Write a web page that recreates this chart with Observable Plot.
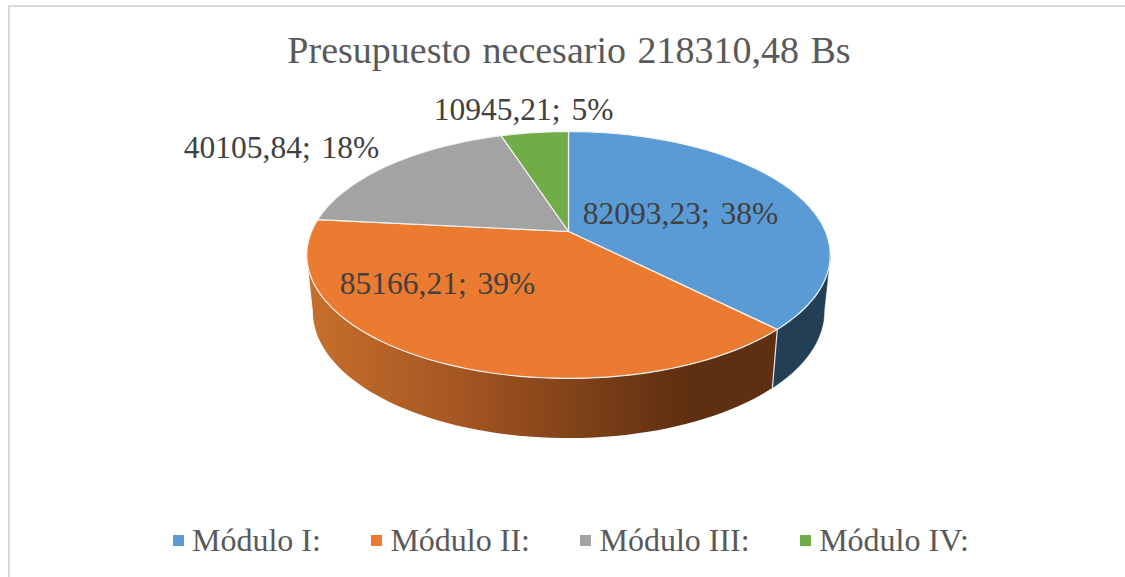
<!DOCTYPE html>
<html>
<head>
<meta charset="utf-8">
<script src="https://cdn.jsdelivr.net/npm/d3@7"></script>
<script src="https://cdn.jsdelivr.net/npm/@observablehq/plot@0.6"></script>
<style>
  html, body { margin: 0; padding: 0; background: #fff; }
  #frame { position: relative; width: 1125px; height: 577px; overflow: hidden; font-family: "Liberation Serif", serif; }
  #border { position: absolute; left: 8px; top: 5px; right: 0; bottom: 0; border-left: 2px solid #d9d9d9; border-top: 2px solid #d9d9d9; }
  #title { position: absolute; left: 0; top: 0; width: 1138px; height: 90px; line-height: 101px; text-align: center; font-size: 38px; color: #595959; word-spacing: 2px; white-space: nowrap; }
  #chart { position: absolute; left: 0; top: 90px; }
  #legend { position: absolute; left: 173px; top: 518px; display: flex; font-size: 32px; line-height: 44px; color: #595959; white-space: nowrap; }
  .item { display: flex; align-items: center; margin-right: 50.5px; }
  .sw { width: 11px; height: 11px; margin-right: 8px; }
</style>
</head>
<body>
<div id="frame">
  <div id="border"></div>
  <div id="title"></div>
  <div id="chart"></div>
  <div id="legend"></div>
</div>
<script>
const titleText = "Presupuesto necesario 218310,48 Bs";
const categories = ["Módulo I:", "Módulo II:", "Módulo III:", "Módulo IV:"];
const values = [82093.23, 85166.21, 40105.84, 10945.21];
const valueLabels = ["82093,23; 38%", "85166,21; 39%", "40105,84; 18%", "10945,21; 5%"];
const colors = ["#5b9bd5", "#ea7b30", "#a3a3a3", "#70ad47"];

// Layout of the tilted pie (page pixels)
const top3d = {cx: 568, cy: 231, a: 119, b: 257, k: 0.19};
const bottom3d = {cx: 568, cy: 287, a: 122, b: 251, k: 0.19};
const labelAt = [[680, 213], [437, 283], [281, 147], [523, 109]];

const total = d3.sum(values);
const edges = [0, ...d3.cumsum(values).map(v => v / total * 2 * Math.PI)];
const STEPS = 180;

function project(g, t) {
  const X = Math.sin(t), Y = Math.cos(t), w = 1 + g.k * Y;
  return {x: g.cx + g.b * X / w, y: g.cy - g.a * Y / w};
}
function arc(g, t0, t1) {
  const n = Math.max(2, Math.ceil(Math.abs(t1 - t0) / (2 * Math.PI) * STEPS));
  return d3.range(n + 1).map(i => project(g, t0 + (t1 - t0) * i / n));
}

// Top faces
const slices = categories.flatMap((name, i) => {
  const apex = {x: top3d.cx, y: top3d.cy};
  return [apex, ...arc(top3d, edges[i], edges[i + 1]), apex].map(p => ({...p, name}));
});

// Side walls: only the two front slices show one
const rightLimit = 0.56 * Math.PI;
const leftLimit = 1.44 * Math.PI;
const wall = (t0, t1) => [...arc(top3d, t0, t1), ...arc(bottom3d, t1, t0)];
const blueWall = wall(rightLimit, edges[1]);
const orangeWall = wall(edges[1], leftLimit);
const close = pts => [...pts, pts[0]];

const chart = Plot.plot({
  width: 1125, height: 410, margin: 0,
  x: {domain: [0, 1125], range: [0, 1125], axis: null},
  y: {domain: [90, 500], range: [0, 410], axis: null},
  color: {domain: categories, range: colors},
  style: {background: "transparent", fontFamily: "'Liberation Serif', serif", wordSpacing: "3px"},
  marks: [
    () => {
      const svg = d3.create("svg:defs");
      const g = svg.append("linearGradient").attr("id", "orangeSide")
        .attr("gradientUnits", "userSpaceOnUse")
        .attr("x1", 305).attr("x2", 771).attr("y1", 0).attr("y2", 0);
      [[0, "#c8702c"], [0.35, "#a25422"], [0.62, "#7a3f17"], [0.82, "#5e2f10"], [1, "#5e2f10"]]
        .forEach(([o, c]) => g.append("stop").attr("offset", o).attr("stop-color", c));
      return svg.node();
    },
    Plot.line(close(blueWall), {x: "x", y: "y", fill: "#233f56", stroke: "#233f56", strokeWidth: 0.5}),
    Plot.line(close(orangeWall), {x: "x", y: "y", fill: "url(#orangeSide)", stroke: "none"}),
    Plot.line([project(top3d, edges[1]), project(bottom3d, edges[1])], {x: "x", y: "y", stroke: "#e8e8e8", strokeWidth: 1.2}),
    Plot.line(slices, {x: "x", y: "y", z: "name", fill: "name", stroke: "#f4f4f4", strokeWidth: 1.2, strokeLinejoin: "round"}),
    Plot.text(valueLabels, {
      x: (d, i) => labelAt[i][0], y: (d, i) => labelAt[i][1], text: d => d,
      fontSize: 31.5, fill: "#404040", textAnchor: "middle", lineAnchor: "middle"
    })
  ]
});
document.getElementById("chart").append(chart);
document.getElementById("title").textContent = titleText;
const legend = document.getElementById("legend");
categories.forEach((name, i) => {
  const item = document.createElement("div");
  item.className = "item";
  const sw = document.createElement("span");
  sw.className = "sw";
  sw.style.background = colors[i];
  const label = document.createElement("span");
  label.textContent = name;
  item.append(sw, label);
  legend.append(item);
});
</script>
</body>
</html>
